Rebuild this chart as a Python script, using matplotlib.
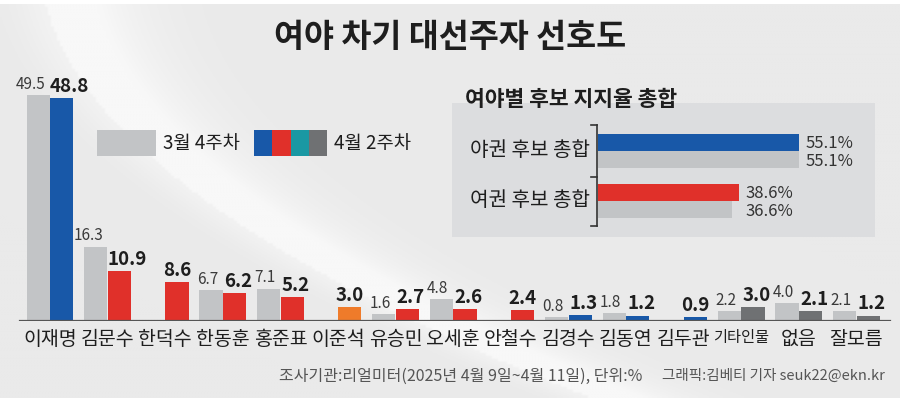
"""여야 차기 대선주자 선호도 — grouped bars with an inset of camp totals."""

import matplotlib
matplotlib.use("Agg")
import matplotlib.pyplot as plt
import numpy as np
from matplotlib.patches import Rectangle

matplotlib.rcParams.update({
    "font.family": ["Noto Sans CJK KR", "DejaVu Sans"],
    "axes.unicode_minus": False,
})

# ---------------------------------------------------------------------------
# data
# ---------------------------------------------------------------------------
names = ["이재명", "김문수", "한덕수", "한동훈", "홍준표", "이준석", "유승민", "오세훈",
         "안철수", "김경수", "김동연", "김두관", "기타인물", "없음", "잘모름"]
mar_w4 = [49.5, 16.3, np.nan, 6.7, 7.1, np.nan, 1.6, 4.8,
          np.nan, 0.8, 1.8, np.nan, 2.2, 4.0, 2.1]
apr_w2 = [48.8, 10.9, 8.6, 6.2, 5.2, 3.0, 2.7, 2.6,
          2.4, 1.3, 1.2, 0.9, 3.0, 2.1, 1.2]
camp = ["blue", "red", "red", "red", "red", "orange", "red", "red",
        "red", "blue", "blue", "blue", "gray", "gray", "gray"]

camp_names = ["야권 후보 총합", "여권 후보 총합"]
camp_apr = [55.1, 38.6]
camp_mar = [55.1, 36.6]
camp_colors = ["blue", "red"]

series_labels = ["3월 4주차", "4월 2주차"]

PALETTE = {
    "blue": "#1858a8",
    "red": "#e0302a",
    "orange": "#ef7b2a",
    "teal": "#1a98a3",
    "gray": "#6f7173",
    "light": "#c2c4c6",
}
TXT = "#1e1e1e"

W, H = 900, 398
fig = plt.figure(figsize=(W / 100, H / 100), dpi=100)
fig.patch.set_facecolor("white")

# soft light swoosh in the background
bg_ax = fig.add_axes([0, 0, 1, 1 - 4 / H], zorder=-20)
gx, gy = np.meshgrid(np.linspace(0, W, 300), np.linspace(0, H, 140))
curve = 55 + 0.0028 * gy ** 2 + 0.25 * gy
glow = np.exp(-((gx - curve) / 90.0) ** 2) * (gx > curve - 10)
glow = glow + 0.6 * np.exp(-((gx - curve) / 40.0) ** 2)
shade = np.clip(glow, 0, 1)
base = np.array([0xea, 0xea, 0xea]) / 255
hi = np.array([0xf8, 0xf8, 0xf8]) / 255
img = base + shade[..., None] * (hi - base)
bg_ax.imshow(img, extent=(0, W, H, 0), aspect="auto")
bg_ax.axis("off")

# ---------------------------------------------------------------------------
# main bars
# ---------------------------------------------------------------------------
px_unit = 4.57          # pixels per percentage point
base_px = 77            # baseline from bottom
ax_h_px = 250
ax = fig.add_axes([0, base_px / H, 1, ax_h_px / H])
ax.set_facecolor("none")
step = 57.6
x = np.arange(len(names))
ax.set_xlim(-50 / step, (W - 50) / step)
ax.set_ylim(0, ax_h_px / px_unit)

bw = 0.40
off = 0.205
apr_cols = [PALETTE[c] for c in camp]
ax.bar(x - off, mar_w4, bw, color=PALETTE["light"], zorder=2)
ax.bar(x + off, apr_w2, bw, color=apr_cols, zorder=2)

for xi, m, a in zip(x, mar_w4, apr_w2):
    paired = not np.isnan(m)
    a_txt = f"{a:.1f}"
    if paired:
        m_txt = f"{m:.1f}"
        m_dx = -(2.5 + 3 * (len(m_txt) - 3))
        ax.annotate(m_txt, (xi - off, m), xytext=(m_dx, 1.5), textcoords="offset points",
                    ha="center", va="bottom", fontsize=11, color="#3a3a3a")
    a_dx = (2.5 + 3 * (len(a_txt) - 3)) if paired else 0
    ax.annotate(a_txt, (xi + off, a), xytext=(a_dx, 1.5),
                textcoords="offset points", ha="center", va="bottom",
                fontsize=13.5, fontweight="bold", color=TXT)

ax.axhline(0, xmin=20 / W, xmax=890 / W, color="#555555", lw=1.6, zorder=3)

ax.set_xticks(x)
ax.set_xticklabels(names, fontsize=14, color=TXT, fontweight="medium")
ax.get_xticklabels()[names.index("기타인물")].set_fontsize(11)
ax.tick_params(axis="x", length=0, pad=6)
ax.tick_params(axis="y", left=False, labelleft=False)
for s in ax.spines.values():
    s.set_visible(False)

# legend swatches
lx0, ly0 = 97, 130
fig.patches.append(Rectangle((lx0 / W, 1 - (ly0 + 26) / H), 59 / W, 26 / H,
                             transform=fig.transFigure, facecolor=PALETTE["light"],
                             edgecolor="none"))
fig.text(163 / W, 1 - 143 / H, series_labels[0], fontsize=13.5, color=TXT, va="center")
for i, c in enumerate(["blue", "red", "teal", "gray"]):
    fig.patches.append(Rectangle(((254 + i * 18.3) / W, 1 - (ly0 + 26) / H), 18.3 / W, 26 / H,
                                 transform=fig.transFigure, facecolor=PALETTE[c],
                                 edgecolor="none"))
fig.text(334 / W, 1 - 143 / H, series_labels[1], fontsize=13.5, color=TXT, va="center")

# ---------------------------------------------------------------------------
# inset: camp totals
# ---------------------------------------------------------------------------
fig.patches.append(Rectangle((452 / W, 1 - 237 / H), 423 / W, 134 / H,
                             transform=fig.transFigure, facecolor="#dcdddf",
                             edgecolor="none", zorder=-5))
fig.text(465 / W, 1 - 100 / H, "여야별 후보 지지율 총합", fontsize=15.5,
         fontweight="bold", color=TXT, va="center")

ix_unit = 3.65
ax_in = fig.add_axes([598 / W, 1 - 230 / H, 270 / W, 110 / H])
ax_in.set_facecolor("none")
ax_in.set_xlim(0, 270 / ix_unit)
ax_in.set_ylim(1 + 29.5 / 50, -30.5 / 50)
yy = np.arange(len(camp_names))
bh = 0.34
ax_in.barh(yy - 0.17, camp_apr, bh, color=[PALETTE[c] for c in camp_colors])
ax_in.barh(yy + 0.17, camp_mar, bh, color=PALETTE["light"])
for yi, a, m in zip(yy, camp_apr, camp_mar):
    ax_in.annotate(f"{a:.1f}%", (a, yi - 0.17), xytext=(5, 0), textcoords="offset points",
                   ha="left", va="center_baseline", fontsize=12, color="#333333")
    ax_in.annotate(f"{m:.1f}%", (max(a, m), yi + 0.17), xytext=(5, 0), textcoords="offset points",
                   ha="left", va="center_baseline", fontsize=12, color="#333333")
    ax_in.text(-2.2, yi, camp_names[yi], ha="right", va="center", fontsize=14.5, color=TXT)

# bracket
bx = -0.3
ax_in.plot([bx, bx], [-0.51, 1.51], color="#333333", lw=1.2, clip_on=False)
for ty in (-0.51, 0.53, 1.51):
    ax_in.plot([bx - 1.5, bx], [ty, ty], color="#333333", lw=1.2, clip_on=False)
ax_in.axis("off")

# ---------------------------------------------------------------------------
# titles and footer
# ---------------------------------------------------------------------------
fig.text(0.5, 1 - 38 / H, "여야 차기 대선주자 선호도", ha="center", va="center",
         fontsize=23.5, fontweight="bold", color=TXT)
fig.text(642 / W, 1 - 376 / H, "조사기관:리얼미터(2025년 4월 9일~4월 11일), 단위:%",
         ha="right", va="center", fontsize=11.5, color="#555555")
fig.text(885 / W, 1 - 376 / H, "그래픽:김베티 기자 seuk22@ekn.kr",
         ha="right", va="center", fontsize=10.5, color="#555555")

fig.savefig("out.png", dpi=100, facecolor=fig.get_facecolor())
